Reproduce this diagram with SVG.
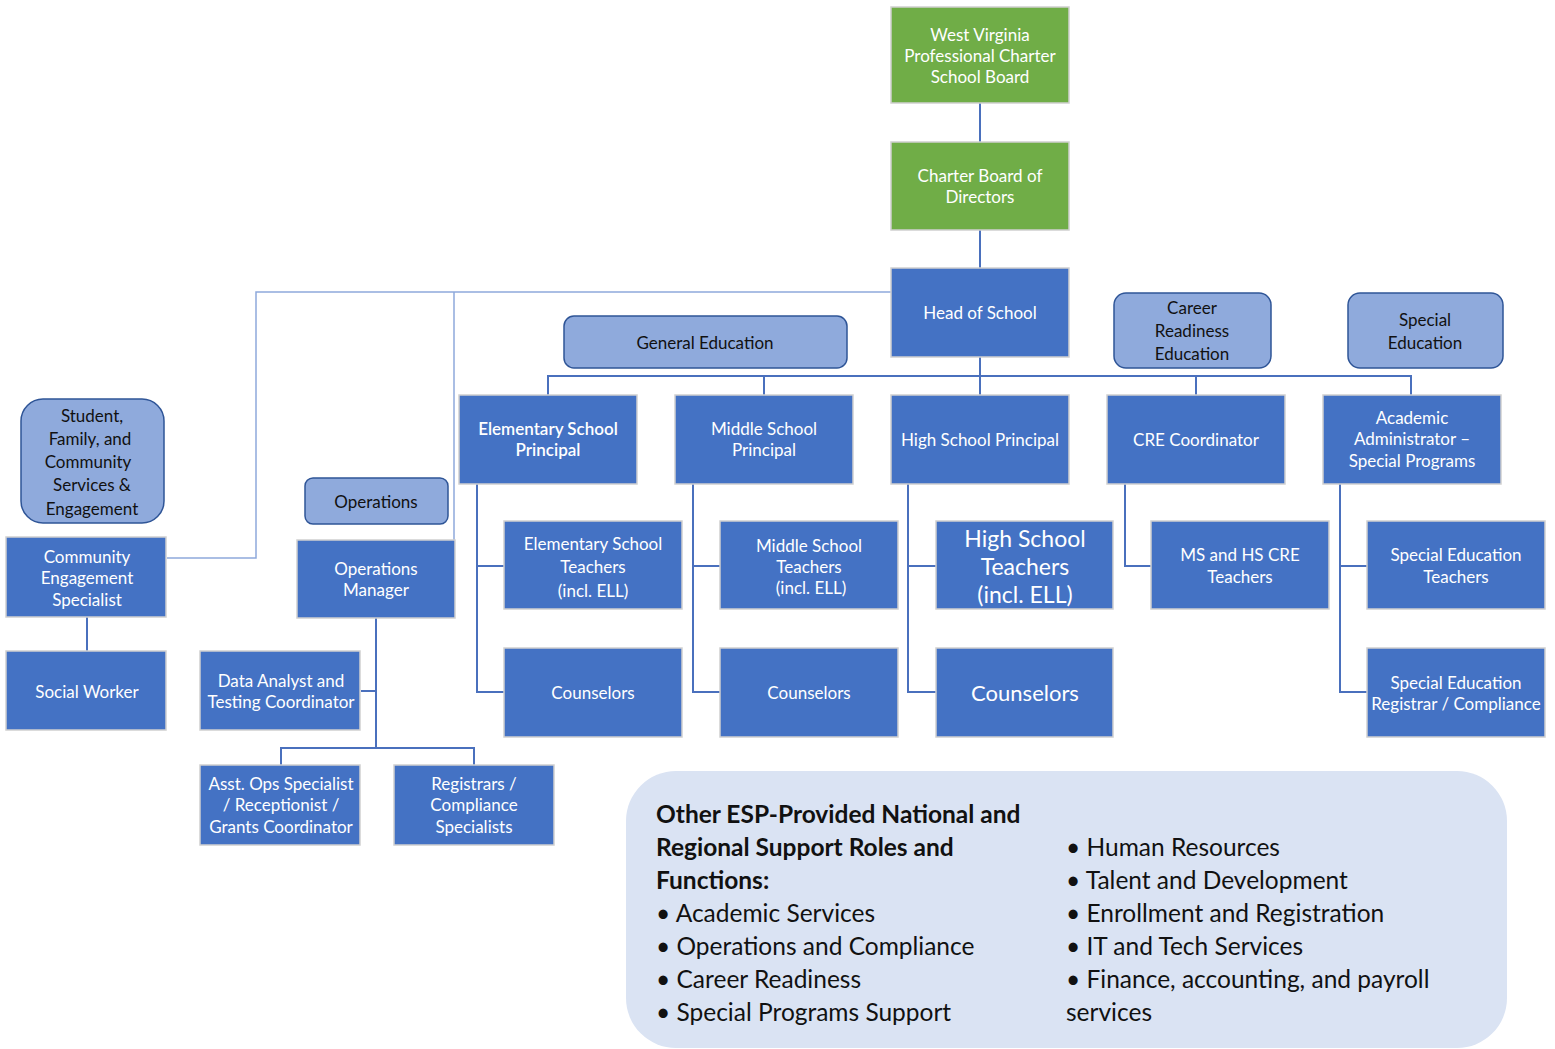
<svg xmlns="http://www.w3.org/2000/svg" width="1555" height="1049" viewBox="0 0 1555 1049">
<style>
text{font-family:Lato,"Open Sans","Liberation Sans",sans-serif;text-anchor:middle;dominant-baseline:central}
.b{fill:#4472C4;stroke:#D0D0D0;stroke-width:1.5}
.g{fill:#70AD47;stroke:#D0D0D0;stroke-width:1.5}
.c{fill:#8FAADC;stroke:#2F5597;stroke-width:1.5}
.w{fill:#fff;font-size:17px}
.d{fill:#111;font-size:17px}
.ln{fill:none;stroke:#4A70BD;stroke-width:2}
.lt{fill:none;stroke:#8EA9DB;stroke-width:1.5}
.t{fill:#111;font-size:24.5px;text-anchor:start}
.big{font-size:23px}
.big2{font-size:22px}
</style>
<rect width="1555" height="1049" fill="#fff"/>
<g id="connectors">
<path class="ln" d="M980 103V142M980 230V268M980 357V395M548 395V376H1411V395M764 376V395M1196 376V395"/>
<path class="ln" d="M477 484V692H504M477 566H504M693 484V692H720M693 566H720M908 484V692H936M908 566H936M1125 484V566H1151M1340 484V692H1367M1340 566H1367"/>
<path class="ln" d="M87 617V651M376 618V748M361 691H376M281 765V748H474V765"/>
<path class="lt" d="M891 292H256V558H167M454 292V540"/>
</g>
<g id="wv"><rect class="g" x="891" y="7" width="178" height="96"/><text class="w"><tspan x="980" y="34">West Virginia</tspan><tspan x="980" y="55">Professional Charter</tspan><tspan x="980" y="76">School Board</tspan></text></g>
<g id="charter"><rect class="g" x="891" y="142" width="178" height="88"/><text class="w"><tspan x="980" y="175">Charter Board of</tspan><tspan x="980" y="196">Directors</tspan></text></g>
<g id="head"><rect class="b" x="891" y="268" width="178" height="89"/><text class="w" x="980" y="312">Head of School</text></g>
<g id="gened"><rect class="c" x="564" y="316" width="283" height="52" rx="10"/><text class="d" x="705" y="342">General Education</text></g>
<g id="career"><rect class="c" x="1114" y="293" width="157" height="75" rx="12"/><text class="d"><tspan x="1192" y="307">Career</tspan><tspan x="1192" y="330">Readiness</tspan><tspan x="1192" y="353">Education</tspan></text></g>
<g id="speced"><rect class="c" x="1348" y="293" width="155" height="75" rx="12"/><text class="d"><tspan x="1425" y="319">Special</tspan><tspan x="1425" y="342">Education</tspan></text></g>
<g id="student"><rect class="c" x="21" y="399" width="143" height="124" rx="22"/><text class="d"><tspan x="92" y="415">Student,</tspan><tspan x="90" y="438">Family, and</tspan><tspan x="88" y="461">Community</tspan><tspan x="92" y="484">Services &amp;</tspan><tspan x="92" y="508">Engagement</tspan></text></g>
<g id="ops"><rect class="c" x="305" y="478" width="143" height="46" rx="8"/><text class="d" x="376" y="501">Operations</text></g>
<g id="elemp"><rect class="b" x="459" y="395" width="178" height="89"/><text class="w" font-weight="600"><tspan x="548" y="428">Elementary School</tspan><tspan x="548" y="449">Principal</tspan></text></g>
<g id="midp"><rect class="b" x="675" y="395" width="178" height="89"/><text class="w"><tspan x="764" y="428">Middle School</tspan><tspan x="764" y="449">Principal</tspan></text></g>
<g id="highp"><rect class="b" x="891" y="395" width="178" height="89"/><text class="w" x="980" y="439">High School Principal</text></g>
<g id="crep"><rect class="b" x="1107" y="395" width="178" height="89"/><text class="w" x="1196" y="439">CRE Coordinator</text></g>
<g id="acad"><rect class="b" x="1323" y="395" width="178" height="89"/><text class="w"><tspan x="1412" y="417">Academic</tspan><tspan x="1412" y="438">Administrator –</tspan><tspan x="1412" y="460">Special Programs</tspan></text></g>
<g id="elemt"><rect class="b" x="504" y="521" width="178" height="88"/><text class="w"><tspan x="593" y="543">Elementary School</tspan><tspan x="593" y="566">Teachers</tspan><tspan x="593" y="590">(incl. ELL)</tspan></text></g>
<g id="elemc"><rect class="b" x="504" y="648" width="178" height="89"/><text class="w" x="593" y="692">Counselors</text></g>
<g id="midt"><rect class="b" x="720" y="521" width="178" height="88"/><text class="w"><tspan x="809" y="545">Middle School</tspan><tspan x="809" y="566">Teachers</tspan><tspan x="811" y="587">(incl. ELL)</tspan></text></g>
<g id="midc"><rect class="b" x="720" y="648" width="178" height="89"/><text class="w" x="809" y="692">Counselors</text></g>
<g id="hight"><rect class="b" x="936" y="521" width="177" height="88"/><text class="w big"><tspan x="1025" y="538">High School</tspan><tspan x="1025" y="566">Teachers</tspan><tspan x="1025" y="594">(incl. ELL)</tspan></text></g>
<g id="highc"><rect class="b" x="936" y="648" width="177" height="89"/><text class="w big2" x="1025" y="692">Counselors</text></g>
<g id="cret"><rect class="b" x="1151" y="521" width="178" height="88"/><text class="w"><tspan x="1240" y="554">MS and HS CRE</tspan><tspan x="1240" y="576">Teachers</tspan></text></g>
<g id="spedt"><rect class="b" x="1367" y="521" width="178" height="88"/><text class="w"><tspan x="1456" y="554">Special Education</tspan><tspan x="1456" y="576">Teachers</tspan></text></g>
<g id="spedr"><rect class="b" x="1367" y="648" width="178" height="89"/><text class="w"><tspan x="1456" y="682">Special Education</tspan><tspan x="1456" y="703">Registrar / Compliance</tspan></text></g>
<g id="ces"><rect class="b" x="6" y="537" width="160" height="80"/><text class="w"><tspan x="87" y="556">Community</tspan><tspan x="87" y="577">Engagement</tspan><tspan x="87" y="599">Specialist</tspan></text></g>
<g id="sw"><rect class="b" x="6" y="651" width="160" height="79"/><text class="w" x="87" y="691">Social Worker</text></g>
<g id="opsm"><rect class="b" x="297" y="540" width="158" height="78"/><text class="w"><tspan x="376" y="568">Operations</tspan><tspan x="376" y="589">Manager</tspan></text></g>
<g id="data"><rect class="b" x="200" y="651" width="160" height="79"/><text class="w"><tspan x="281" y="680">Data Analyst and</tspan><tspan x="281" y="701">Testing Coordinator</tspan></text></g>
<g id="asst"><rect class="b" x="200" y="765" width="160" height="80"/><text class="w"><tspan x="281" y="783">Asst. Ops Specialist</tspan><tspan x="281" y="804">/ Receptionist /</tspan><tspan x="281" y="826">Grants Coordinator</tspan></text></g>
<g id="reg"><rect class="b" x="394" y="765" width="160" height="80"/><text class="w"><tspan x="474" y="783">Registrars /</tspan><tspan x="474" y="804">Compliance</tspan><tspan x="474" y="826">Specialists</tspan></text></g>
<g id="other"><rect x="626" y="771" width="881" height="277" rx="50" fill="#DAE3F3"/>
<text class="t" font-weight="bold"><tspan x="656" y="813">Other ESP-Provided National and</tspan><tspan x="656" y="846">Regional Support Roles and</tspan><tspan x="656" y="879">Functions:</tspan></text>
<text class="t"><tspan x="656" y="912">• Academic Services</tspan><tspan x="656" y="945">• Operations and Compliance</tspan><tspan x="656" y="978">• Career Readiness</tspan><tspan x="656" y="1011">• Special Programs Support</tspan></text>
<text class="t"><tspan x="1066" y="846">• Human Resources</tspan><tspan x="1066" y="879">• Talent and Development</tspan><tspan x="1066" y="912">• Enrollment and Registration</tspan><tspan x="1066" y="945">• IT and Tech Services</tspan><tspan x="1066" y="978">• Finance, accounting, and payroll</tspan><tspan x="1066" y="1011">services</tspan></text>
</g>
</svg>
